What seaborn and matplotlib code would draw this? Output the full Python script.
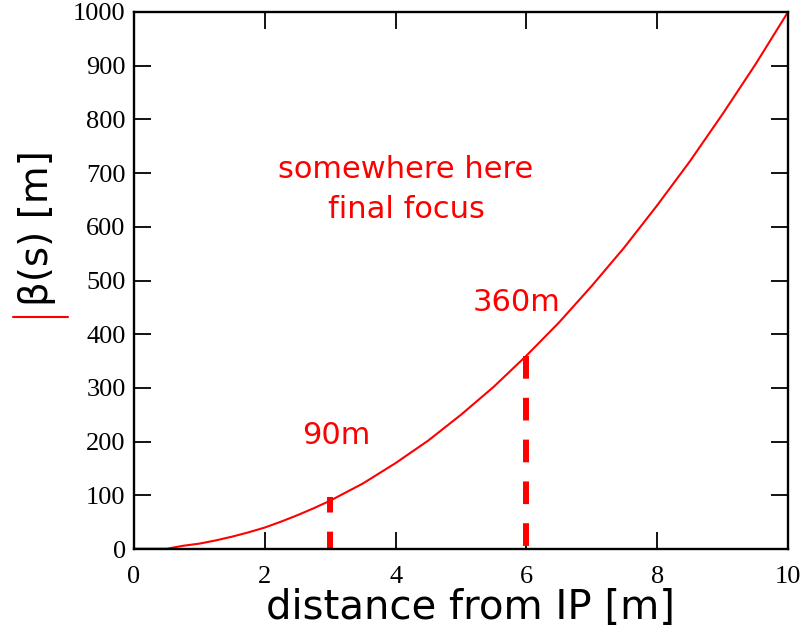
import matplotlib
matplotlib.use("Agg")
import matplotlib.pyplot as plt
import seaborn as sns
import pandas as pd

# values
s_vals = [0, 0.25, 0.5, 0.75, 1.0, 1.25, 1.5, 1.75, 2.0, 2.25, 2.5, 2.75, 3.0,
          3.25, 3.5, 3.75, 4.0, 4.25, 4.5, 4.75, 5.0, 5.25, 5.5, 5.75, 6.0,
          6.25, 6.5, 6.75, 7.0, 7.25, 7.5, 7.75, 8.0, 8.25, 8.5, 8.75, 9.0,
          9.25, 9.5, 9.75, 10.0]
beta_vals = [0.5, 0.5, 0.5, 6, 10, 16, 23, 31, 40, 51, 63, 76, 90,
             106, 122, 141, 160, 181, 202, 226, 250, 276, 302, 331, 360,
             391, 422, 456, 490, 526, 562, 601, 640, 681, 722, 766, 810,
             856, 902, 951, 1000]
marker_s = [3, 6]
marker_top = [96, 360]
marker_labels = ["90m", "360m"]
x_ticks = [0, 2, 4, 6, 8, 10]
y_ticks = [0, 100, 200, 300, 400, 500, 600, 700, 800, 900, 1000]

df = pd.DataFrame({"s": s_vals, "beta": beta_vals})

sns.set_style("ticks")
plt.rcParams["font.family"] = ["DejaVu Sans"]

fig = plt.figure(figsize=(8.04, 6.33), dpi=100)
ax = fig.add_axes([134 / 804, 1 - 549 / 633, (788 - 134) / 804, (549 - 12) / 633])

sns.lineplot(data=df, x="s", y="beta", ax=ax, color="#ff0000", linewidth=1.5)

offsets = [1.2, 0.0]
for xs, yb, off in zip(marker_s, marker_top, offsets):
    ax.plot([xs, xs], [yb, 0], color="#ff0000", linewidth=4.3,
            linestyle=(off, (3.8, 3.2)), dash_capstyle="butt",
            solid_capstyle="butt", zorder=1)

ax.set_xlim(0, 10)
ax.set_ylim(0, 1000)
ax.set_xticks(x_ticks)
ax.set_yticks(y_ticks)
ax.set_xticklabels([str(t) for t in x_ticks], family="Liberation Serif",
                   fontsize=19, color="black")
ax.set_yticklabels([str(t) for t in y_ticks], family="Liberation Serif",
                   fontsize=19, color="black")
ax.tick_params(axis="x", pad=12)
ax.tick_params(axis="y", pad=6)
ax.tick_params(direction="in", length=12.5, width=1.3, top=True, right=True,
               color="black")
for sp in ax.spines.values():
    sp.set_linewidth(1.7)
    sp.set_color("black")
    sp.set_visible(True)

ax.set_xlabel("")
ax.set_ylabel("")
fig.text(471 / 804, 1 - 608 / 633, "distance from IP [m]", fontsize=29,
         color="black", ha="center", va="center")
fig.text(37 / 804, 1 - 228 / 633, "β(s) [m]", fontsize=28, color="black",
         ha="center", va="center", rotation=90)

fig.text(406 / 804, 1 - 170 / 633, "somewhere here", color="#ff0000",
         fontsize=22, ha="center", va="center")
fig.text(406 / 804, 1 - 210 / 633, "final focus", color="#ff0000",
         fontsize=22, ha="center", va="center")
fig.text(517 / 804, 1 - 303 / 633, marker_labels[1], color="#ff0000",
         fontsize=22, ha="center", va="center")
fig.text(336 / 804, 1 - 435 / 633, marker_labels[0], color="#ff0000",
         fontsize=22, ha="center", va="center")

# small red bar near the y label
fig.add_artist(plt.Line2D([13 / 804, 68 / 804], [1 - 317 / 633, 1 - 317 / 633],
                          color="#ff0000", linewidth=1.5))

fig.savefig("out.png", dpi=100)
